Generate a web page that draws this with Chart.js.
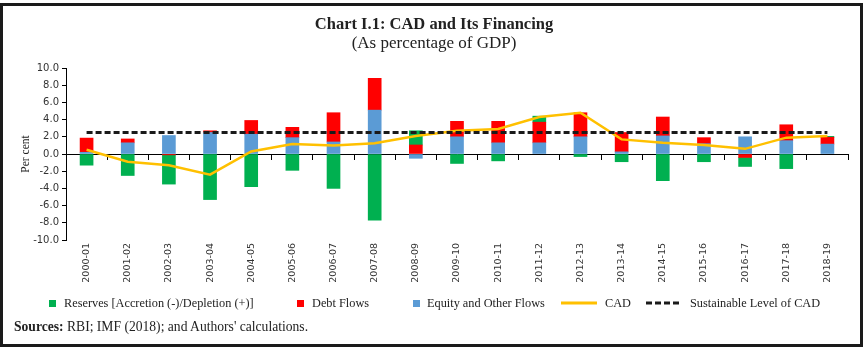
<!DOCTYPE html>
<html>
<head>
<meta charset="utf-8">
<script src="https://cdn.jsdelivr.net/npm/chart.js@4"></script>
<style>
  html, body { margin: 0; padding: 0; background: #fff; }
  #page { position: relative; width: 868px; height: 350px; overflow: hidden; font-family: "Liberation Serif", serif; color: #222; }
  #frame { position: absolute; left: 0; top: 3px; width: 863px; height: 344px; border: 3px solid #1a1a1a; box-sizing: border-box; pointer-events: none; }
  #chart-wrap { position: absolute; left: 0; top: 0; width: 868px; height: 350px; }
  .title { position: absolute; left: 0; width: 868px; text-align: center; white-space: nowrap; }
  #t1 { top: 14px; font-size: 16.5px; font-weight: bold; }
  #t2 { top: 33px; font-size: 17px; }
  #ylabel { position: absolute; left: 25px; top: 154px; font-size: 11.5px; transform: translate(-50%, -50%) rotate(-90deg); white-space: nowrap; }
  .lg { position: absolute; top: 296px; font-size: 12.3px; white-space: nowrap; line-height: 14px; }
  .sq { position: absolute; top: 300px; width: 7px; height: 7px; }
  #src { position: absolute; left: 14px; top: 319px; font-size: 13.6px; white-space: nowrap; }
</style>
</head>
<body>
<div id="page">
  <div id="chart-wrap"><canvas id="chart-cad"></canvas></div>
  <div class="title" id="t1">Chart I.1: CAD and Its Financing</div>
  <div class="title" id="t2">(As percentage of GDP)</div>
  <div id="ylabel">Per cent</div>

  <div class="sq" style="left:49px; background:#00B050;"></div>
  <div class="lg" style="left:64px;">Reserves [Accretion (-)/Depletion (+)]</div>
  <div class="sq" style="left:297px; background:#FF0000;"></div>
  <div class="lg" style="left:312px;">Debt Flows</div>
  <div class="sq" style="left:413px; background:#5B9BD5;"></div>
  <div class="lg" style="left:427px;">Equity and Other Flows</div>
  <svg style="position:absolute; left:561px; top:298px;" width="36" height="10"><line x1="0" y1="5" x2="36" y2="5" stroke="#FFC000" stroke-width="3"/></svg>
  <div class="lg" style="left:605px;">CAD</div>
  <svg style="position:absolute; left:646px; top:298px;" width="34" height="10"><line x1="0" y1="5" x2="34" y2="5" stroke="#1a1a1a" stroke-width="3" stroke-dasharray="6,3"/></svg>
  <div class="lg" style="left:690px;">Sustainable Level of CAD</div>

  <div id="src"><b>Sources:</b> RBI; IMF (2018); and Authors' calculations.</div>
  <div id="frame"></div>
</div>

<script>
const years = [
  "2000-01", "2001-02", "2002-03", "2003-04", "2004-05", "2005-06", "2006-07",
  "2007-08", "2008-09", "2009-10", "2010-11", "2011-12", "2012-13", "2013-14",
  "2014-15", "2015-16", "2016-17", "2017-18", "2018-19",
];
const equityFlows = [0.2, 1.3, 2.15, 2.5, 2.3, 1.9, 1.4, 5.1, -0.5, 2.0, 1.3, 1.3, 2.0, 0.25, 2.1, 1.2, 2.0, 1.55, 1.15];
const debtFlows = [1.65, 0.45, -0.1, 0.2, 1.6, 1.2, 3.4, 3.7, 1.05, 1.8, 2.5, 2.4, 2.8, 2.25, 2.2, 0.7, -0.4, 1.85, 0.8];
const reserves = [-1.3, -2.5, -3.4, -5.3, -3.8, -1.9, -4.0, -7.7, 1.65, -1.1, -0.8, 0.7, -0.3, -0.9, -3.1, -0.9, -1.05, -1.7, 0.1];
const cad = [0.5, -0.9, -1.3, -2.4, 0.3, 1.15, 1.0, 1.25, 2.1, 2.7, 2.9, 4.3, 4.8, 1.7, 1.3, 1.05, 0.6, 1.9, 2.1];
const sustainable = years.map(() => 2.5);

const COLORS = {
  reserves: "#00B050",
  debt: "#FF0000",
  equity: "#5B9BD5",
  cad: "#FFC000",
  dashed: "#1a1a1a",
  axis: "#000000",
  tick: "#333333",
};

let cadChart = null;

function initChart() {
  const canvas = document.getElementById("chart-cad");
  cadChart = new Chart(canvas, {
    data: {
      labels: years,
      datasets: [
        {
          type: "bar",
          label: "Equity and Other Flows",
          data: equityFlows,
          backgroundColor: COLORS.equity,
          stack: "flows",
          barThickness: 13,
          order: 2,
        },
        {
          type: "bar",
          label: "Debt Flows",
          data: debtFlows,
          backgroundColor: COLORS.debt,
          stack: "flows",
          barThickness: 13,
          order: 2,
        },
        {
          type: "bar",
          label: "Reserves [Accretion (-)/Depletion (+)]",
          data: reserves,
          backgroundColor: COLORS.reserves,
          stack: "flows",
          barThickness: 13,
          order: 2,
        },
        {
          type: "line",
          label: "CAD",
          data: cad,
          borderColor: COLORS.cad,
          borderWidth: 2.5,
          pointRadius: 0,
          tension: 0,
          stack: "cad",
          order: 1,
        },
        {
          type: "line",
          label: "Sustainable Level of CAD",
          data: sustainable,
          borderColor: COLORS.dashed,
          borderWidth: 3,
          borderDash: [6, 3],
          pointRadius: 0,
          stack: "sust",
          order: 0,
        },
      ],
    },
    options: {
      responsive: false,
      animation: false,
      layout: { padding: { left: 10, top: 68, right: 20, bottom: 0 } },
      plugins: { legend: { display: false }, tooltip: { enabled: false } },
      scales: {
        x: {
          type: "category",
          stacked: true,
          offset: true,
          grid: { display: false, drawTicks: false },
          border: { display: false },
          ticks: {
            color: COLORS.tick,
            font: { family: "DejaVu Sans", size: 9.5 },
            minRotation: 90,
            maxRotation: 90,
            autoSkip: false,
            padding: 3,
          },
          afterFit: (scale) => { scale.height = 110; },
        },
        x2: {
          type: "category",
          position: { y: 0 },
          offset: true,
          grid: { offset: true, drawOnChartArea: false, drawTicks: true, tickLength: 5, color: COLORS.axis },
          border: { display: true, color: COLORS.axis, width: 1 },
          ticks: { display: false },
        },
        y: {
          stacked: true,
          min: -10,
          max: 10,
          grid: { drawOnChartArea: false, drawTicks: true, tickLength: 4, color: COLORS.axis },
          border: { display: true, color: COLORS.axis, width: 1 },
          ticks: {
            stepSize: 2,
            color: COLORS.tick,
            font: { family: "DejaVu Sans", size: 10 },
            padding: 3,
            callback: (v) => v.toFixed(1),
          },
          afterFit: (scale) => { scale.width = 56; },
        },
      },
    },
  });
}

const cv = document.getElementById("chart-cad");
cv.width = 868;
cv.height = 350;
initChart();
</script>
</body>
</html>
